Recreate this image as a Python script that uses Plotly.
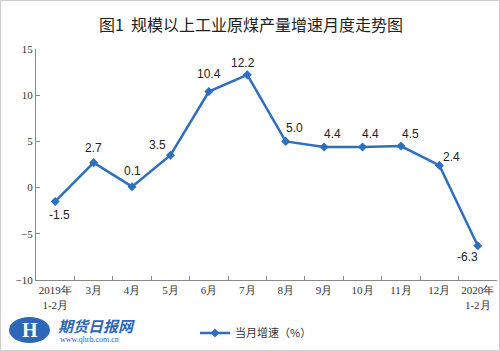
import plotly.graph_objects as go

categories = ["2019年<br>1-2月", "3月", "4月", "5月", "6月", "7月", "8月", "9月", "10月", "11月", "12月", "2020年<br>1-2月"]
values = [-1.5, 2.7, 0.1, 3.5, 10.4, 12.2, 5.0, 4.4, 4.4, 4.5, 2.4, -6.3]
labels = ["-1.5", "2.7", "0.1", "3.5", "10.4", "12.2", "5.0", "4.4", "4.4", "4.5", "2.4", "-6.3"]
label_dx = [4, 0, 0, -13, 0, -4, 9, 8, 8, 10, 12, -10]
label_dy = [-14, 15, 16, 10, 18, 12, 13, 13, 13, 12, 8, -11]
y_ticks = [-10, -5, 0, 5, 10, 15]

W, H = 500, 351
L, R, T, B = 36, 3, 49, 71
pw, ph = W - L - R, H - T - B

def px(x):
    return (x - L) / pw

def py(y):
    return (H - B - y) / ph

color = "#2E6FC0"

fig = go.Figure()
fig.add_trace(go.Scatter(
    x=categories, y=values, mode="lines+markers",
    name="当月增速（%）",
    line=dict(color=color, width=2.5),
    marker=dict(symbol="diamond", size=7, color=color),
))

for c, v, t, dx, dy in zip(categories, values, labels, label_dx, label_dy):
    fig.add_annotation(x=c, y=v, text=t, showarrow=False, xshift=dx, yshift=dy,
                       font=dict(family="Liberation Sans, Arial", size=12, color="#222"))

fig.add_annotation(xref="paper", yref="paper", x=px(251), y=py(24),
                   text="图1  规模以上工业原煤产量增速月度走势图", showarrow=False,
                   font=dict(family="Noto Sans CJK SC", size=16, color="#222"), xanchor="center", yanchor="middle")

# logo
fig.add_shape(type="circle", xref="paper", yref="paper", x0=px(9), x1=px(50), y0=py(343), y1=py(317),
              fillcolor="#2D67B7", line=dict(width=0))
fig.add_annotation(xref="paper", yref="paper", x=px(30), y=py(330), text="<b>H</b>", showarrow=False,
                   font=dict(family="Liberation Serif", size=20, color="white"), xanchor="center", yanchor="middle")
fig.add_annotation(xref="paper", yref="paper", x=px(56), y=py(325), text="<b><i>期货日报网</i></b>", showarrow=False,
                   font=dict(family="Noto Sans CJK SC", size=15, color="#2D67B7"), xanchor="left", yanchor="middle")
fig.add_annotation(xref="paper", yref="paper", x=px(58), y=py(339), text="www.qhrb.com.cn", showarrow=False,
                   font=dict(family="Liberation Serif", size=8, color="#2D67B7"), xanchor="left", yanchor="middle")

# border
fig.add_shape(type="rect", xref="paper", yref="paper", x0=px(0.5), x1=px(W - 0.5), y0=py(H - 0.5), y1=py(0.5),
              line=dict(color="#cccccc", width=1), fillcolor="rgba(0,0,0,0)", layer="below")

fig.update_layout(
    width=W, height=H,
    margin=dict(l=L, r=R, t=T, b=B),
    paper_bgcolor="white", plot_bgcolor="white",
    showlegend=True,
    legend=dict(orientation="h", x=px(195), y=py(333), xanchor="left", yanchor="middle",
                font=dict(family="Noto Sans CJK SC", size=11, color="#333"), bgcolor="rgba(0,0,0,0)"),
    xaxis=dict(type="category", tickson="boundaries", ticks="inside", ticklen=4, tickcolor="#888",
               showline=True, linecolor="#888", linewidth=1, showgrid=False, tickangle=0,
               tickfont=dict(family="Liberation Serif, Times New Roman", size=11, color="#333"),
               range=[-0.5, 11.5]),
    yaxis=dict(range=[-10, 15], tickvals=y_ticks, ticks="inside", ticklen=4, tickcolor="#888",
               showline=True, linecolor="#888", linewidth=1, showgrid=False, zeroline=False,
               tickfont=dict(family="Liberation Serif, Times New Roman", size=11, color="#333")),
)

fig.write_html("out.html")
